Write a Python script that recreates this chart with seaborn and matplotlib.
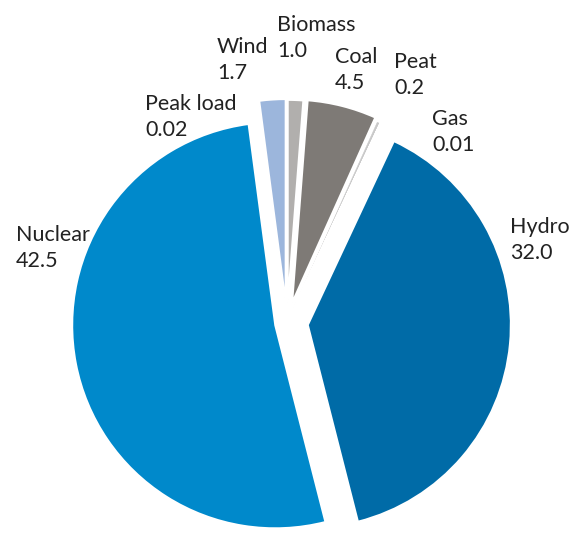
import matplotlib
matplotlib.use("Agg")
import matplotlib.pyplot as plt
import seaborn as sns

# Electricity production by source, TWh
sources = ["Biomass", "Coal", "Peat", "Gas", "Hydro", "Nuclear", "Peak load", "Wind"]
values = [1.0, 4.5, 0.2, 0.01, 32.0, 42.5, 0.02, 1.7]
value_labels = ["1.0", "4.5", "0.2", "0.01", "32.0", "42.5", "0.02", "1.7"]
colors = ["#b1afad", "#7e7a76", "#c9c9c9", "#c9c9c9", "#006ba7", "#0089cb", "#0089cb", "#9cb6dc"]

# how far each wedge is pulled out, as a fraction of the radius
explode_frac = [0.099, 0.103, 0.084, 0.084, 0.103, 0.059, 0.059, 0.103]

# label anchors (left / top of the name line) in figure pixels
label_xy = {
    "Biomass": (277, 18), "Coal": (335, 50), "Peat": (394, 55), "Gas": (432, 112),
    "Hydro": (510, 220), "Nuclear": (16, 228), "Peak load": (145, 97), "Wind": (217, 40),
}
line_pitch = 26

W, H = 577, 534
sns.set_theme(style="white")
plt.rcParams["font.family"] = ["Lato", "DejaVu Sans"]

fig = plt.figure(figsize=(W / 100, H / 100), dpi=100)
ax = fig.add_axes([0, 0, 1, 1])

radius = 203
center = (287, H - 323)
# matplotlib offsets exploded wedges in data units
explode = [f * radius for f in explode_frac]
wedges, _ = ax.pie(
    values, colors=colors, explode=explode, startangle=90, counterclock=False,
    radius=radius, center=center,
    wedgeprops=dict(edgecolor="white", linewidth=1.4, antialiased=True),
)

# the thin peat wedge keeps its own colour as outline so it shows as a hairline
for name, w in zip(sources, wedges):
    if name == "Peat":
        w.set_edgecolor(w.get_facecolor())
        w.set_linewidth(0.3)

ax.set_xlim(0, W)
ax.set_ylim(0, H)
ax.set_aspect("equal")
ax.axis("off")

text_kw = dict(ha="left", va="top", fontsize=15.5, color="#222222")
for name, lab in zip(sources, value_labels):
    x, y = label_xy[name]
    fig.text(x / W, 1 - (y - 3) / H, name, **text_kw)
    fig.text(x / W, 1 - (y - 3 + line_pitch) / H, lab, **text_kw)

fig.savefig("out.png", dpi=100, facecolor="white")
